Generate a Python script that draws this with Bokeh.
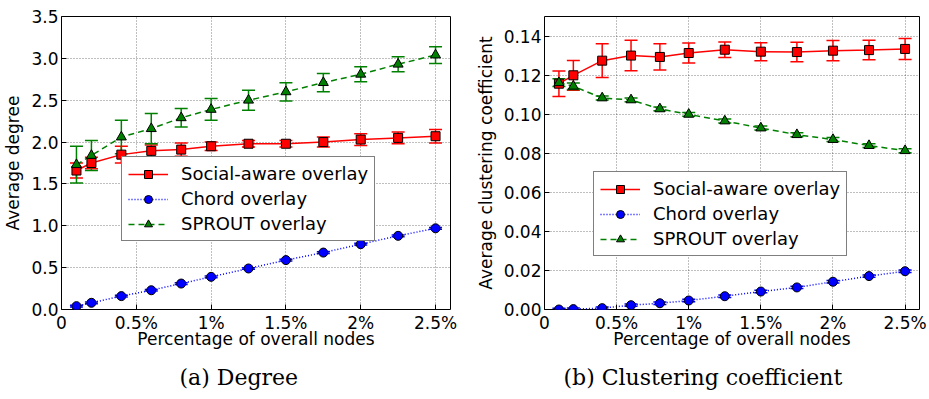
from bokeh.plotting import figure
from bokeh.layouts import row
from bokeh.models import (ColumnDataSource, Whisker, TeeHead, Legend, LegendItem,
                          FixedTicker, Range1d, Title)
from bokeh.embed import file_html
from bokeh.resources import INLINE

# ---------------- data ----------------
pct = [0.1, 0.2, 0.4, 0.6, 0.8, 1.0, 1.25, 1.5, 1.75, 2.0, 2.25, 2.5]

deg_social = [1.66, 1.75, 1.85, 1.895, 1.91, 1.95, 1.98, 1.98, 2.00, 2.03, 2.05, 2.07]
deg_social_err = [0.09, 0.07, 0.10, 0.07, 0.08, 0.05, 0.04, 0.04, 0.06, 0.07, 0.07, 0.08]
deg_chord = [0.04, 0.08, 0.16, 0.23, 0.31, 0.39, 0.49, 0.59, 0.68, 0.78, 0.88, 0.97]
deg_chord_err = [0.01] * 12
deg_sprout = [1.73, 1.84, 2.06, 2.16, 2.29, 2.39, 2.50, 2.60, 2.71, 2.81, 2.93, 3.04]
deg_sprout_err = [0.22, 0.18, 0.20, 0.18, 0.11, 0.13, 0.12, 0.11, 0.11, 0.09, 0.09, 0.10]

cc_social = [0.1156, 0.1199, 0.1274, 0.1300, 0.1293, 0.1313, 0.1330, 0.1320, 0.1318, 0.1325, 0.1328, 0.1334]
cc_social_err = [0.0065, 0.0076, 0.0086, 0.0078, 0.0067, 0.0051, 0.0040, 0.0046, 0.0050, 0.0052, 0.0050, 0.0054]
cc_chord = [0.0000, 0.0002, 0.0007, 0.0022, 0.0032, 0.0046, 0.0068, 0.0092, 0.0113, 0.0142, 0.0171, 0.0196]
cc_chord_err = [0.0006] * 12
cc_sprout = [0.1161, 0.1143, 0.1083, 0.1073, 0.1027, 0.0999, 0.0965, 0.0929, 0.0895, 0.0870, 0.0839, 0.0813]
cc_sprout_err = [0.0020, 0.0017, 0.0010, 0.0010, 0.0010, 0.0010, 0.0010, 0.0010, 0.0010, 0.0010, 0.0010, 0.0010]

x_ticks = [0, 0.5, 1, 1.5, 2, 2.5]
x_tick_labels = ["0", "0.5%", "1%", "1.5%", "2%", "2.5%"]
deg_y_ticks = [0.0, 0.5, 1.0, 1.5, 2.0, 2.5, 3.0, 3.5]
cc_y_ticks = [0.0, 0.02, 0.04, 0.06, 0.08, 0.10, 0.12, 0.14]

series_names = ["Social-aware overlay", "Chord overlay", "SPROUT overlay"]
x_label = "Percentage of overall nodes"

FONT = "DejaVu Sans"
COLORS = ["red", "blue", "green"]
MARKERS = ["square", "circle", "triangle"]
MSIZES = [9, 9, 10]
DASHES = ["solid", "1 2", "6 4"]


def make_panel(ys, errs, y_range, y_ticks, y_fmt, y_label, caption,
               border_left, border_right, frame_w, legend_loc, caption_offset):
    p = figure(output_backend="svg", toolbar_location=None,
               frame_width=frame_w, frame_height=293,
               min_border_left=border_left, min_border_right=border_right,
               min_border_top=16, min_border_bottom=90,
               x_range=Range1d(0, 2.6), y_range=Range1d(*y_range))
    p.background_fill_color = "white"
    p.border_fill_color = "white"
    p.outline_line_color = "black"
    p.outline_line_width = 1

    xa = p.xaxis[0]
    ya = p.yaxis[0]
    xa.ticker = FixedTicker(ticks=x_ticks)
    xa.major_label_overrides = {t: l for t, l in zip(x_ticks, x_tick_labels)}
    ya.ticker = FixedTicker(ticks=y_ticks)
    ya.major_label_overrides = {t: (y_fmt % t) for t in y_ticks}
    for ax in (xa, ya):
        ax.axis_line_color = None
        ax.major_tick_in = 5
        ax.major_tick_out = 0
        ax.minor_tick_line_color = None
        ax.major_label_text_font = FONT
        ax.major_label_text_font_size = "17px"
        ax.major_label_text_color = "black"
        ax.axis_label_text_font = FONT
        ax.axis_label_text_font_size = "17px"
        ax.axis_label_text_font_style = "normal"
        ax.axis_label_text_color = "black"
        ax.major_label_standoff = 3
    xa.axis_label = x_label
    xa.axis_label_standoff = -7
    ya.axis_label = y_label
    ya.axis_label_standoff = 5

    for g in (p.xgrid[0], p.ygrid[0]):
        g.grid_line_color = "black"
        g.grid_line_alpha = 0.5
        g.grid_line_dash = "1 2"
        g.grid_line_width = 1
    p.xgrid[0].ticker = FixedTicker(ticks=x_ticks)
    p.ygrid[0].ticker = FixedTicker(ticks=y_ticks)

    items = []
    for name, y, e, c, m, ms, d in zip(series_names, ys, errs, COLORS, MARKERS, MSIZES, DASHES):
        src = ColumnDataSource(dict(x=pct, y=y,
                                    lo=[a - b for a, b in zip(y, e)],
                                    hi=[a + b for a, b in zip(y, e)]))
        w = Whisker(source=src, base="x", lower="lo", upper="hi",
                    line_color=c, line_width=1.5,
                    upper_head=TeeHead(size=13, line_color=c, line_width=1.5),
                    lower_head=TeeHead(size=13, line_color=c, line_width=1.5))
        p.add_layout(w)
        lr = p.line("x", "y", source=src, line_color=c, line_width=1.5, line_dash=d)
        sr = p.scatter("x", "y", source=src, marker=m, size=ms,
                       fill_color=c, line_color="black", line_width=1)
        items.append(LegendItem(label=name, renderers=[lr, sr]))

    leg = Legend(items=items, location=legend_loc)
    leg.label_text_font = FONT
    leg.label_text_font_size = "18px"
    leg.label_text_color = "black"
    leg.glyph_width = 40
    leg.glyph_height = 20
    leg.label_height = 20
    leg.label_standoff = 13
    leg.spacing = 4
    leg.padding = 6
    leg.margin = 0
    leg.border_line_color = "black"
    leg.border_line_width = 1
    leg.background_fill_color = "white"
    leg.background_fill_alpha = 1.0
    p.add_layout(leg)

    t = Title(text=caption, align="left", offset=caption_offset, standoff=22,
              text_font="DejaVu Serif", text_font_size="22px",
              text_font_style="normal", text_color="black")
    p.add_layout(t, "below")
    return p


p1 = make_panel([deg_social, deg_chord, deg_sprout],
                [deg_social_err, deg_chord_err, deg_sprout_err],
                (0, 3.5), deg_y_ticks, "%.1f", "Average degree", "(a) Degree",
                60, 15, 389, (60, 68), 118)
p2 = make_panel([cc_social, cc_chord, cc_sprout],
                [cc_social_err, cc_chord_err, cc_sprout_err],
                (0, 0.15), cc_y_ticks, "%.2f", "Average clustering coefficient",
                "(b) Clustering coefficient", 79, 11, 375, (49, 53), 19)

layout = row(p1, p2)
open("out.html", "w").write(file_html(layout, INLINE))
